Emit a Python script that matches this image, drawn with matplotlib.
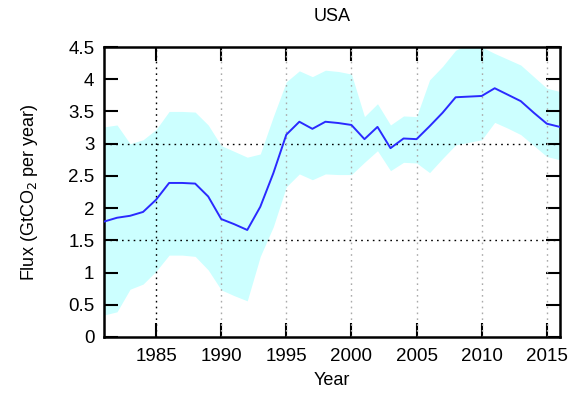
import numpy as np
import matplotlib
matplotlib.use('Agg')
import matplotlib.pyplot as plt

plt.rcParams['font.family'] = ['Liberation Sans', 'DejaVu Sans']

# Datos (GtCO2 por año)
years = [1981, 1982, 1983, 1984, 1985, 1986, 1987, 1988, 1989, 1990, 1991, 1992,
         1993, 1994, 1995, 1996, 1997, 1998, 1999, 2000, 2001, 2002, 2003, 2004,
         2005, 2006, 2007, 2008, 2009, 2010, 2011, 2012, 2013, 2014, 2015, 2016]
flux = [1.79, 1.85, 1.88, 1.94, 2.13, 2.39, 2.39, 2.38, 2.18, 1.83, 1.75, 1.66,
        2.02, 2.54, 3.14, 3.34, 3.23, 3.34, 3.32, 3.29, 3.07, 3.26, 2.93, 3.08,
        3.07, 3.27, 3.48, 3.72, 3.73, 3.74, 3.86, 3.76, 3.66, 3.48, 3.31, 3.26]
upper = [3.26, 3.29, 3.00, 3.06, 3.22, 3.50, 3.50, 3.49, 3.29, 2.97, 2.88, 2.79,
         2.84, 3.42, 3.96, 4.13, 4.04, 4.14, 4.12, 4.08, 3.42, 3.62, 3.29, 3.43,
         3.42, 3.99, 4.20, 4.45, 4.55, 4.50, 4.40, 4.31, 4.22, 4.04, 3.86, 3.81]
lower = [0.34, 0.39, 0.74, 0.82, 1.02, 1.27, 1.27, 1.25, 1.04, 0.73, 0.64, 0.56,
         1.25, 1.71, 2.33, 2.53, 2.44, 2.53, 2.52, 2.52, 2.71, 2.89, 2.58, 2.71,
         2.70, 2.55, 2.77, 2.98, 3.02, 3.06, 3.33, 3.24, 3.14, 2.97, 2.80, 2.75]

fig = plt.figure(figsize=(5.73, 3.95), dpi=100)
ax = fig.add_axes([0.1815, 0.147, 0.7955, 0.734])

ax.fill_between(years, lower, upper, color='#ccffff', linewidth=0, zorder=1)
ax.plot(years, flux, color='#2a2aff', linewidth=1.4, zorder=3)

# lineas de referencia punteadas
for y in [1.5, 3.0]:
    ax.axhline(y, color='black', linestyle=(0, (1.2, 3)), linewidth=1.0, zorder=2)
ax.axvline(1985, color='black', linestyle=(0, (1.2, 3)), linewidth=1.0, zorder=2)
for x in [1990, 1995, 2000, 2005, 2010, 2015]:
    ax.axvline(x, color='#aaaaaa', linestyle=(0, (1.2, 3)), linewidth=1.0, zorder=2)

ax.set_xlim(1981, 2016)
ax.set_ylim(0, 4.5)
ax.set_xticks([1985, 1990, 1995, 2000, 2005, 2010, 2015])
ax.set_yticks(np.arange(0, 4.51, 0.5))
ax.set_yticklabels(['0', '0.5', '1', '1.5', '2', '2.5', '3', '3.5', '4', '4.5'])
ax.tick_params(direction='in', length=10, width=1.5, top=True, right=True,
               labelsize=13.5)
ax.tick_params(axis='x', pad=8)
ax.tick_params(axis='y', pad=7)
for s in ax.spines.values():
    s.set_linewidth(1.8)

ax.set_title('USA', fontsize=13, pad=19)
ax.set_xlabel('Year', fontsize=13, labelpad=5)
ax.set_ylabel('Flux (GtCO$_2$ per year)', fontsize=13, labelpad=20)

fig.savefig('out.png', dpi=100)
